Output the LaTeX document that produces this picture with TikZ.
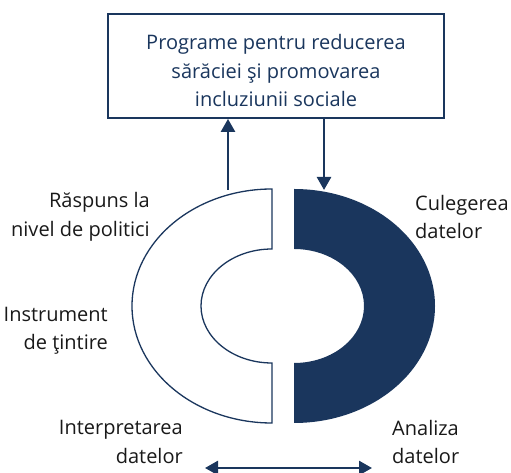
\documentclass[tikz,border=0pt]{standalone}
\usepackage{fontspec}
\setmainfont{Open Sans}
\usepackage{tikz}
\usetikzlibrary{arrows.meta,positioning}
\usepackage{xcolor}
\definecolor{navy}{RGB}{26,54,93}

\begin{document}
\begin{tikzpicture}[x=1pt, y=1pt,
    every node/.style={font=\fontsize{20}{28.5}\selectfont},
    flow/.style={-{Triangle[width=14pt,length=13pt]}, line width=2.5pt, navy},
    label/.style={text=black!90, inner sep=0pt}]
    \useasboundingbox (0,0) rectangle (511,473);

    % Programs box
    \node[draw=navy, line width=1.8pt, minimum width=336pt, minimum height=104pt] (prog) at (276,407) {};
    \node[text=navy, align=center, inner sep=0pt] (progtxt) at (276,402)
          {Programe pentru reducerea\\sărăciei şi promovarea\\incluziunii sociale};

    % Cycle halves
    \draw[navy, line width=1.3pt, fill=white] (272,284) arc[start angle=90, end angle=270, x radius=140, y radius=117]
        -- (272,110) arc[start angle=270, end angle=90, x radius=71, y radius=57] -- cycle;
    \fill[navy] (294,284) arc[start angle=90, end angle=-90, x radius=141, y radius=117]
        -- (294,110) arc[start angle=-90, end angle=90, x radius=70, y radius=57] -- cycle;

    % Stage labels
    \node[label, align=right, anchor=east] (resp) at (150,256) {Răspuns la\\nivel de politici};
    \node[label, align=right, anchor=east] (tint) at (108,142) {Instrument\\de ţintire};
    \node[label, align=right, anchor=east] (interp) at (183,31) {Interpretarea\\datelor};
    \node[label, align=left, anchor=west] (cul) at (415,256) {Culegerea\\datelor};
    \node[label, align=left, anchor=west] (anal) at (392,31) {Analiza\\datelor};

    % Arrows
    \coordinate (polL) at (228,283);
    \coordinate (dataC) at (324,283);
    \coordinate (bl) at (205,5);
    \coordinate (br) at (372,5);
    \draw[flow] (polL) -- (polL |- prog.south);
    \draw[flow] (dataC |- prog.south) -- (dataC);
    \draw[flow, {Triangle[width=14pt,length=13pt]}-{Triangle[width=14pt,length=13pt]}] (bl) -- (br);
\end{tikzpicture}
\end{document}
